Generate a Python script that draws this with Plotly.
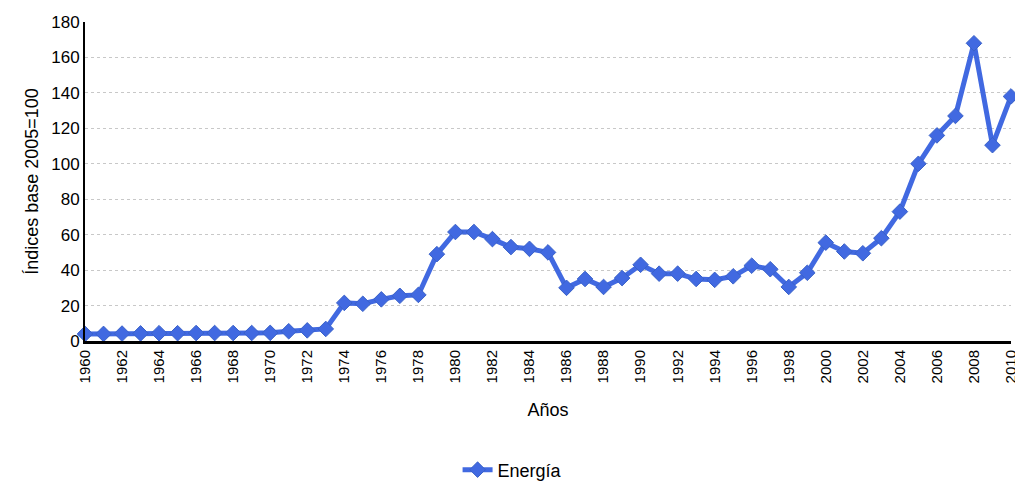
import plotly.graph_objects as go

years = list(range(1960, 2011))
energia = [4.0, 4.0, 4.2, 4.3, 4.4, 4.4, 4.5, 4.5, 4.5, 4.5, 4.6, 5.5, 6.0, 6.8,
           21.5, 21.0, 23.5, 25.5, 26.0, 49.0, 61.5, 61.5, 57.5, 53.0, 52.0, 50.0,
           30.0, 35.0, 30.5, 35.5, 43.0, 38.0, 38.0, 35.0, 34.5, 36.5, 42.5, 40.5,
           30.5, 38.5, 55.5, 50.5, 49.5, 58.0, 73.0, 100.0, 116.0, 127.0, 168.0,
           110.5, 138.0]
y_ticks = list(range(0, 181, 20))
x_ticks = list(range(1960, 2011, 2))

fig = go.Figure()
fig.add_trace(go.Scatter(
    x=years, y=energia, mode="lines+markers", name="Energía",
    line=dict(color="#4169E1", width=5),
    marker=dict(symbol="diamond", size=12, color="#4169E1",
                line=dict(color="#3a62c8", width=1)),
    cliponaxis=False,
))

fig.update_layout(
    width=1015, height=482,
    margin=dict(l=85, r=4, t=22, b=141),
    paper_bgcolor="white", plot_bgcolor="white",
    font=dict(family="Liberation Sans, Arial, sans-serif", color="black", size=17),
    showlegend=True,
    legend=dict(orientation="h", xref="container", yref="container",
                x=0.505, xanchor="center", y=0.025, yanchor="middle",
                font=dict(size=18)),
    xaxis=dict(
        range=[1960, 2010], tickmode="array", tickvals=x_ticks,
        ticktext=[str(v) for v in x_ticks], tickangle=-90,
        ticklabeloverflow="allow",
        showgrid=False, showline=True, linecolor="black", linewidth=3,
        ticks="", zeroline=False, tickfont=dict(size=15), automargin=False,
        title=dict(text="Años", font=dict(size=18), standoff=22),
    ),
    yaxis=dict(
        range=[0, 180], tickmode="array", tickvals=y_ticks,
        showgrid=True, gridcolor="#c8c8c8", griddash="dot", gridwidth=1,
        showline=True, linecolor="black", linewidth=2, ticks="",
        zeroline=False, tickfont=dict(size=17), automargin=False,
        title=dict(text="Índices base 2005=100", font=dict(size=18), standoff=8),
    ),
)

fig.write_html("out.html", config={"displayModeBar": False},
               post_script="document.body.style.margin='0';document.body.style.padding='0';")
